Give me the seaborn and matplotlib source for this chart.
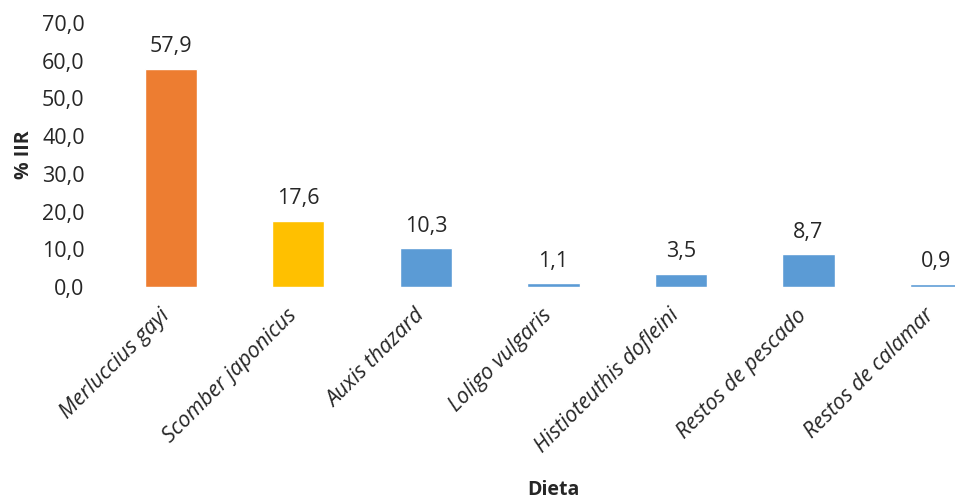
import matplotlib
matplotlib.use("Agg")
import matplotlib.pyplot as plt
import matplotlib.transforms as mtransforms
import seaborn as sns
import pandas as pd

categories = ["Merluccius gayi", "Scomber japonicus", "Auxis thazard", "Loligo vulgaris",
              "Histioteuthis dofleini", "Restos de pescado", "Restos de calamar"]
values = [57.9, 17.6, 10.3, 1.1, 3.5, 8.7, 0.9]
bar_colors = ["#ED7D31", "#FFC000", "#5B9BD5", "#5B9BD5", "#5B9BD5", "#5B9BD5", "#5B9BD5"]
y_ticks = [0, 10, 20, 30, 40, 50, 60, 70]

sns.set_style("white")
plt.rcParams["font.family"] = ["Open Sans", "DejaVu Sans"]

df = pd.DataFrame({"Dieta": categories, "IIR": values})

fig = plt.figure(figsize=(9.55, 5.03), dpi=100)
ax = fig.add_axes([0.112, 0.4294, 0.935, 0.525])

sns.barplot(data=df, x="Dieta", y="IIR", hue="Dieta", palette=bar_colors,
            legend=False, width=0.41, ax=ax, saturation=1)

for i, v in enumerate(values):
    ax.text(i, v + 3.0, f"{v:.1f}".replace(".", ","), ha="center", va="bottom",
            fontsize=15.5, color="#262626")

ax.set_ylim(0, 70)
ax.set_yticks(y_ticks)
ax.set_yticklabels([f"{t:.1f}".replace(".", ",") for t in y_ticks], fontsize=15.5, color="#262626")
ax.tick_params(axis="y", length=0, pad=16)
ax.tick_params(axis="x", length=0, pad=13)
ax.set_xticks(range(len(categories)))
ax.set_xticklabels(categories, rotation=45, ha="right", rotation_mode="anchor",
                   fontsize=15.5, fontstyle="italic", color="#262626")

# nudge the slanted category labels so their ends sit under the bars
shift = mtransforms.ScaledTranslation(-12 / 100, 0, fig.dpi_scale_trans)
for lbl in ax.get_xticklabels():
    lbl.set_transform(lbl.get_transform() + shift)

ax.set_ylabel("% IIR", fontsize=14, fontweight="bold", color="#262626", labelpad=6)
ax.set_xlabel("")
fig.text(553 / 955, 1 - 490 / 503, "Dieta", ha="center", va="center",
         fontsize=14, fontweight="bold", color="#262626")

for s in ax.spines.values():
    s.set_visible(False)
ax.grid(False)

fig.savefig("out.png", dpi=100)
